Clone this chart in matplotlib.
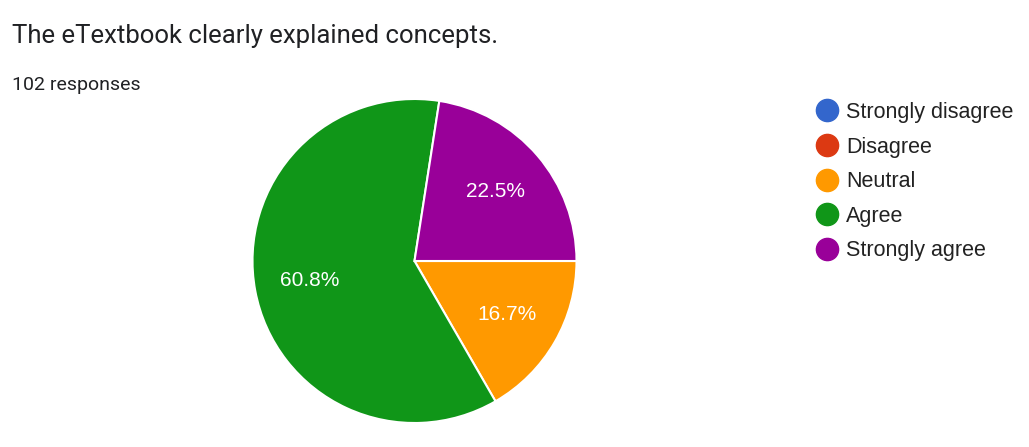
import matplotlib
matplotlib.use("Agg")
import matplotlib.pyplot as plt
from matplotlib.lines import Line2D

# data (102 responses)
labels = ['Strongly disagree', 'Disagree', 'Neutral', 'Agree', 'Strongly agree']
counts = [0, 0, 17, 62, 23]
colors = ['#3366cc', '#dc3912', '#ff9900', '#109618', '#990099']
title = 'The eTextbook clearly explained concepts.'
subtitle = '102 responses'

W, H = 1029, 447
fig = plt.figure(figsize=(W / 100, H / 100), dpi=100)

# pie centre at (414.5, 261) px from top-left, radius 162 px
cx, cy, r = 414.5, 261, 162
ax = fig.add_axes([(cx - r) / W, (H - cy - r) / H, 2 * r / W, 2 * r / H])


def pct(p):
    return '%.1f%%' % p if p > 0.5 else ''


wedges, texts, autotexts = ax.pie(
    counts, colors=colors, startangle=0, counterclock=False,
    autopct=pct, pctdistance=0.66,
    wedgeprops=dict(edgecolor='white', linewidth=1.5),
    textprops=dict(color='white', fontsize=15, family='Liberation Sans'))
ax.set_xlim(-1.0, 1.0)
ax.set_ylim(-1.0, 1.0)
ax.axis('off')

fig.text(12 / W, 1 - 43 / H, title, fontsize=18.5, family='Roboto',
         color='#202124', va='baseline', ha='left')
fig.text(12 / W, 1 - 90 / H, subtitle, fontsize=14, family='Roboto',
         color='#202124', va='baseline', ha='left')

handles = [Line2D([], [], marker='o', linestyle='none', markersize=16,
                  markerfacecolor=c, markeredgecolor=c) for c in colors]
leg = fig.legend(handles, labels, loc='upper left',
                 bbox_to_anchor=(813 / W, 1 - 102 / H), frameon=False,
                 prop=dict(family='Liberation Sans', size=15.5),
                 labelspacing=0.63, handletextpad=0.25, handlelength=1.3,
                 borderaxespad=0, borderpad=0)
for t in leg.get_texts():
    t.set_color('#222222')

fig.savefig('out.png', dpi=100, facecolor='white')
